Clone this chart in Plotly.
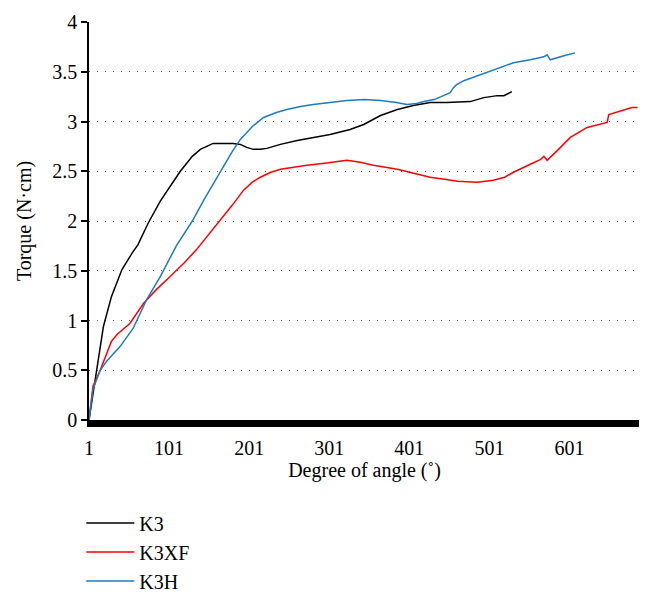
import plotly.graph_objects as go

# ---- data ----
k3_x = [1, 6, 11, 19, 29, 42, 55, 62, 75, 90, 115, 130, 140, 150, 156, 170, 181, 190, 198,
        206, 215, 223, 240, 261, 280, 302, 327, 344, 365, 386, 406, 427, 448, 469, 477,
        494, 511, 519, 529]
k3_y = [0, 0.27, 0.5, 0.94, 1.24, 1.51, 1.68, 1.76, 1.98, 2.2, 2.5, 2.65, 2.72, 2.76, 2.78,
        2.78, 2.78, 2.77, 2.74, 2.72, 2.72, 2.73, 2.77, 2.81, 2.84, 2.87, 2.92, 2.97, 3.06,
        3.12, 3.16, 3.19, 3.19, 3.20, 3.20, 3.24, 3.26, 3.26, 3.30]

k3h_x = [1, 6, 15, 23, 40, 56, 73, 90, 110, 130, 145, 165, 180, 190, 205, 219, 235, 248,
         265, 281, 300, 323, 345, 365, 385, 398, 410, 419, 432, 444, 452, 456, 460, 469,
         490, 511, 531, 552, 569, 573, 577, 594, 608]
k3h_y = [0, 0.31, 0.5, 0.59, 0.74, 0.92, 1.21, 1.44, 1.75, 2.0, 2.22, 2.5, 2.7, 2.82, 2.95,
         3.04, 3.09, 3.12, 3.15, 3.17, 3.19, 3.21, 3.22, 3.21, 3.19, 3.17, 3.18, 3.20, 3.22,
         3.26, 3.29, 3.34, 3.37, 3.41, 3.47, 3.53, 3.59, 3.62, 3.65, 3.67, 3.62, 3.66, 3.69]

k3xf_x = [1, 6, 15, 29, 36, 52, 69, 85, 102, 120, 135, 150, 165, 180, 194, 205, 215, 228,
          240, 255, 273, 295, 314, 323, 340, 356, 386, 410, 427, 445, 461, 486, 506, 520,
          531, 552, 565, 569, 573, 586, 602, 623, 648, 650, 665, 679, 686]
k3xf_y = [0, 0.34, 0.5, 0.79, 0.86, 0.97, 1.17, 1.31, 1.44, 1.58, 1.71, 1.86, 2.0, 2.16,
          2.31, 2.39, 2.44, 2.49, 2.52, 2.54, 2.56, 2.58, 2.60, 2.61, 2.59, 2.56, 2.52, 2.47,
          2.44, 2.42, 2.40, 2.39, 2.41, 2.44, 2.49, 2.57, 2.62, 2.65, 2.61, 2.71, 2.84, 2.94,
          2.99, 3.07, 3.11, 3.14, 3.14]

series_names = ["K3", "K3XF", "K3H"]
x_tick_vals = [1, 101, 201, 301, 401, 501, 601]
x_tick_text = ["1", "101", "201", "301", "401", "501", "601"]

FONT = "Liberation Serif"
FS = 20

fig = go.Figure()
for name, xs, ys, color in [
    ("K3", k3_x, k3_y, "#000000"),
    ("K3XF", k3xf_x, k3xf_y, "#ff0000"),
    ("K3H", k3h_x, k3h_y, "#1f7ac4"),
]:
    fig.add_trace(go.Scatter(x=xs, y=ys, mode="lines", name=name,
                             line=dict(color=color, width=1.5)))

# the page body adds an 8px margin, so the figure is 8px smaller and offsets shifted
fig.update_layout(
    width=639, height=588,
    margin=dict(l=81, r=7, t=14, b=176, autoexpand=False),
    paper_bgcolor="white", plot_bgcolor="white",
    font=dict(family=FONT, size=FS, color="black"),
    showlegend=True,
    legend=dict(x=-0.014, xanchor="left", y=-0.21, yanchor="top",
                font=dict(family=FONT, size=FS), bgcolor="rgba(0,0,0,0)",
                tracegroupgap=0, itemwidth=48),
    xaxis=dict(range=[1, 689], tickvals=x_tick_vals, ticktext=x_tick_text,
               showgrid=False, zeroline=False, showline=True, linewidth=7,
               linecolor="black", ticks="", tickfont=dict(family=FONT, size=FS),
               ticklabelstandoff=4, automargin=False,
               title=dict(text="Degree of angle (˚)", font=dict(family=FONT, size=FS),
                          standoff=7)),
    yaxis=dict(range=[0, 4], dtick=0.5, tick0=0, showgrid=True, gridcolor="#666666",
               gridwidth=1.2, griddash="1px,7px", zeroline=False, showline=True,
               linewidth=1.5, linecolor="black", ticks="outside", ticklen=6,
               tickwidth=1.5, tickcolor="black", tickfont=dict(family=FONT, size=FS),
               automargin=False,
               title=dict(text="Torque (N·cm)", font=dict(family=FONT, size=FS),
                          standoff=15)),
)

fig.write_html("out.html")
